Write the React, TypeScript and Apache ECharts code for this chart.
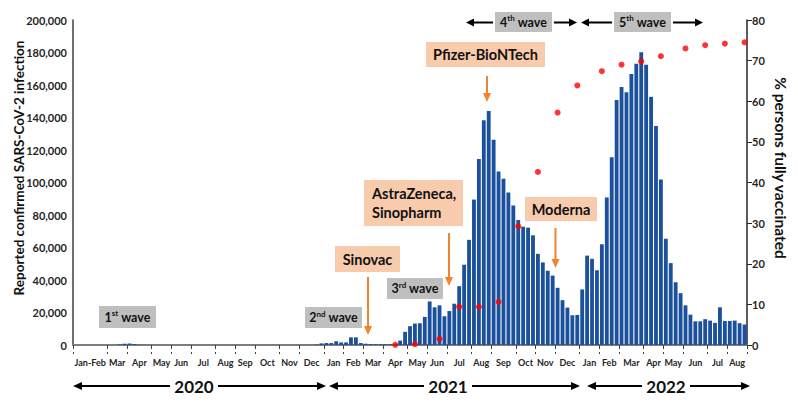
import React, { useEffect, useRef } from "react";
import * as echarts from "echarts";

// ---------- DATA ----------
const START_WEEK = "2020-01-13"; // first weekly bar (Monday)

// Weekly reported confirmed SARS-CoV-2 infections (one value per week)
const weeklyCases: number[] = [
  // Jan-Feb 2020
  5, 5, 5, 10, 15, 10, 10, 30, 80,
  // 1st wave (Mar-Apr 2020)
  400, 800, 900, 600, 250, 100, 60,
  // May-Dec 2020
  60, 40, 30, 25, 20, 30, 50, 60, 40, 30, 20, 30, 40, 30, 30, 40, 50, 40, 30, 40,
  50, 60, 50, 40, 50, 60, 70, 50, 60, 70, 60, 80, 90,
  300, 1000,
  // 2nd wave (Dec 2020 - Mar 2021)
  1200, 1200, 2300, 1600, 1600, 4700, 4700, 1200, 800, 600, 500, 500, 500, 500, 600, 2700,
  // 3rd & 4th wave (Apr 2021 - Dec 2021)
  8100, 11600, 13200, 13400, 17300, 26800, 23200, 24400, 17700, 20900, 25400, 36200,
  49400, 64700, 89500, 114500, 138300, 144000, 126300, 106800, 102300, 93900, 85800,
  76900, 72800, 72200, 67500, 56100, 50800, 45700, 42700, 35200, 27600, 23000, 18300, 18500,
  // 5th wave (2022)
  34200, 55000, 53000, 46000, 62000, 90800, 115500, 150700, 158800, 155600, 166700,
  173100, 180100, 172500, 152700, 134800, 101900, 65400, 50400, 38600, 31900, 24400,
  18700, 14600, 14600, 15900, 15000, 13600, 23200, 14800, 14800, 15000, 13400, 12600,
];

// % persons fully vaccinated (week index of the observation, value)
const vaxWeekIndex: number[] = [65, 69, 74, 78, 82, 86, 90, 94, 98, 102, 107, 111, 115, 119, 124, 128, 132, 136];
const vaxPercent: number[] = [0.05, 0.2, 1.5, 9.4, 9.4, 10.6, 29.2, 42.6, 57.2, 63.9, 67.4, 69.0, 69.8, 71.1, 73.0, 73.8, 74.2, 74.5];

const monthNames = ["Jan", "Feb", "Mar", "Apr", "May", "Jun", "Jul", "Aug", "Sep", "Oct", "Nov", "Dec"];
const firstMonthLabel = "Jan-Feb";
const yearLabels = ["2020", "2021", "2022"];

const leftAxisTitle = "Reported confirmed SARS-CoV-2 infection";
const rightAxisTitle = "% persons fully vaccinated";

const waveNumbers = ["1", "2", "3", "4", "5"];
const waveSuffixes = ["st", "nd", "rd", "th", "th"];
const vaccineNames = ["Sinovac", "AstraZeneca,\nSinopharm", "Pfizer-BioNTech", "Moderna"];

// ---------- derived categories ----------
const DAY = 86400000;
const startMs = Date.parse(START_WEEK + "T00:00:00Z");
const weekLabels = weeklyCases.map((_, k) => new Date(startMs + k * 7 * DAY).toISOString().slice(0, 10));
const weekMonthKey = weeklyCases.map((_, k) => {
  const t = new Date(startMs + (k * 7 + 3) * DAY);
  const y = t.getUTCFullYear();
  const m = t.getUTCMonth();
  if (y === 2020 && m <= 1) return "2020-JF";
  return y + "-" + m;
});
const tickStarts = new Set<number>();
const labelAt = new Map<number, string>(); // index -> rich formatted label
{
  let s = 0;
  for (let k = 1; k <= weekMonthKey.length; k++) {
    if (k === weekMonthKey.length || weekMonthKey[k] !== weekMonthKey[s]) {
      tickStarts.add(s);
      const len = k - s;
      const key = weekMonthKey[s];
      const label = key === "2020-JF" ? firstMonthLabel : monthNames[Number(key.split("-")[1])];
      // even-length months: nudge label half a week to the left so it is centred on the month
      labelAt.set(s + Math.floor(len / 2), (len % 2 === 0 ? "{e|" : "{o|") + label + "}");
      s = k;
    }
  }
}

// ---------- graphic helpers ----------
const FONT = "Lato, 'Open Sans', sans-serif";

function arrow(x1: number, y1: number, x2: number, y2: number, color: string, lw: number, hl: number, hw: number) {
  const dx = x2 - x1, dy = y2 - y1;
  const len = Math.hypot(dx, dy);
  const ux = dx / len, uy = dy / len;
  const bx = x2 - ux * hl, by = y2 - uy * hl;
  const px = -uy, py = ux;
  return [
    { type: "line", silent: true, shape: { x1, y1, x2: bx, y2: by }, style: { stroke: color, lineWidth: lw } },
    {
      type: "polygon", silent: true,
      shape: { points: [[x2, y2], [bx + (px * hw) / 2, by + (py * hw) / 2], [bx - (px * hw) / 2, by - (py * hw) / 2]] },
      style: { fill: color },
    },
  ];
}

function rect(x: number, y: number, w: number, h: number, fill: string) {
  return { type: "rect", silent: true, shape: { x, y, width: w, height: h }, style: { fill } };
}

function waveLabel(i: number, x: number, y: number, w: number, h: number) {
  return [
    rect(x, y, w, h, "#BFBFBF"),
    {
      type: "text", silent: true, x: x + w / 2, y: y + h / 2,
      style: {
        text: "{n|" + waveNumbers[i] + "}{s|" + waveSuffixes[i] + "}{n| wave}",
        align: "center", verticalAlign: "middle",
        rich: {
          n: { fontSize: 12.5, fontWeight: "bold", fontFamily: FONT, fill: "#111", lineHeight: 16 },
          s: { fontSize: 8, fontWeight: "bold", fontFamily: FONT, fill: "#111", lineHeight: 10, verticalAlign: "top" },
        },
      },
    },
  ];
}

function vaccineLabel(i: number, x: number, y: number, w: number, h: number, align: "center" | "left" = "center") {
  return [
    rect(x, y, w, h, "#F8CBAD"),
    {
      type: "text", silent: true,
      x: align === "center" ? x + w / 2 : x + 8, y: y + h / 2,
      style: {
        text: vaccineNames[i], align, verticalAlign: "middle",
        fontSize: 14.5, fontWeight: "bold", fontFamily: FONT, fill: "#111", lineHeight: 19,
      },
    },
  ];
}

function yearLabel(i: number, cx: number) {
  return {
    type: "text", silent: true, x: cx, y: 386,
    style: { text: yearLabels[i], align: "center", verticalAlign: "middle", fontSize: 17, fontWeight: "bold", fontFamily: FONT, fill: "#111" },
  };
}

const ORANGE = "#F0832E";

function buildGraphic() {
  const g: any[] = [];
  // axis titles
  g.push({
    type: "text", silent: true, x: 19, y: 168, rotation: Math.PI / 2,
    style: { text: leftAxisTitle, align: "center", verticalAlign: "middle", fontSize: 13.5, fontWeight: "bold", fontFamily: FONT, fill: "#111" },
  });
  g.push({
    type: "text", silent: true, x: 781, y: 168, rotation: -Math.PI / 2,
    style: { text: rightAxisTitle, align: "center", verticalAlign: "middle", fontSize: 15.5, fontWeight: "bold", fontFamily: FONT, fill: "#111" },
  });
  // wave labels
  g.push(...waveLabel(0, 99, 306, 57, 22));
  g.push(...waveLabel(1, 305, 307, 57, 21));
  g.push(...waveLabel(2, 387, 278, 56, 21));
  g.push(...waveLabel(3, 495, 12, 57, 20));
  g.push(...waveLabel(4, 614, 12, 57, 20));
  g.push(...arrow(493, 22.5, 466, 22.5, "#000", 2, 8, 8));
  g.push(...arrow(554, 22.5, 577, 22.5, "#000", 2, 8, 8));
  g.push(...arrow(612, 22.5, 581, 22.5, "#000", 2, 8, 8));
  g.push(...arrow(673, 22.5, 703, 22.5, "#000", 2, 8, 8));
  // vaccine labels + arrows
  g.push(...vaccineLabel(0, 335, 246, 65, 26));
  g.push(...arrow(368, 277, 368, 335, ORANGE, 2, 9, 8));
  g.push(...vaccineLabel(1, 364, 180, 99, 46, "left"));
  g.push(...arrow(449, 233, 449, 286, ORANGE, 2, 9, 8));
  g.push(...vaccineLabel(2, 426, 42, 119, 25));
  g.push(...arrow(487, 76, 487, 102, ORANGE, 2, 9, 8));
  g.push(...vaccineLabel(3, 525, 197, 72, 24));
  g.push(...arrow(555.5, 228, 555.5, 268, ORANGE, 2, 9, 8));
  // year arrows
  g.push(...arrow(170, 386, 73, 386, "#000", 2, 9, 8));
  g.push(yearLabel(0, 194));
  g.push(...arrow(218, 386, 326, 386, "#000", 2, 9, 8));
  g.push(...arrow(424, 386, 329, 386, "#000", 2, 9, 8));
  g.push(yearLabel(1, 448));
  g.push(...arrow(472, 386, 580, 386, "#000", 2, 9, 8));
  g.push(...arrow(642, 386, 587, 386, "#000", 2, 9, 8));
  g.push(yearLabel(2, 666));
  g.push(...arrow(690, 386, 750, 386, "#000", 2, 9, 8));
  return g;
}

export default function App() {
  const ref = useRef<HTMLDivElement>(null);

  useEffect(() => {
    if (!ref.current) return;
    const chart = echarts.init(ref.current, undefined, { renderer: "svg" });
    const axisLabelStyle = { fontSize: 11, fontWeight: "bold" as const, fontFamily: FONT, color: "#262626" };
    const monthLabelStyle = { fontSize: 9, fontWeight: "bold" as const, fontFamily: FONT, color: "#262626" };
    chart.setOption({
      animation: false,
      backgroundColor: "#ffffff",
      grid: { left: 73, right: 51, top: 20, bottom: 60, containLabel: false },
      xAxis: [
        {
          type: "category", data: weekLabels, position: "bottom", boundaryGap: true,
          axisLine: { show: true, lineStyle: { color: "#7F7F7F", width: 2 } },
          axisTick: { show: false }, axisLabel: { show: false }, splitLine: { show: false },
        },
        {
          type: "category", data: weekLabels, position: "bottom", offset: 9, boundaryGap: true,
          axisLine: { show: true, lineStyle: { color: "#7F7F7F", width: 1 } },
          axisTick: { show: true, interval: (i: number) => tickStarts.has(i), length: 4, lineStyle: { color: "#404040", width: 1 } },
          axisLabel: {
            interval: (i: number) => labelAt.has(i),
            formatter: (_v: string, i: number) => labelAt.get(i) ?? "",
            ...monthLabelStyle, margin: 4,
            rich: {
              e: { ...monthLabelStyle, padding: [0, 5, 0, 0] },
              o: { ...monthLabelStyle },
            },
          },
          splitLine: { show: false },
        },
        {
          type: "category", data: weekLabels, position: "bottom", offset: 9, boundaryGap: true,
          axisLine: { show: false },
          axisTick: { show: true, inside: true, interval: (i: number) => tickStarts.has(i), length: 2, lineStyle: { color: "#404040", width: 1 } },
          axisLabel: { show: false },
          splitLine: { show: false },
        },
      ],
      yAxis: [
        {
          type: "value", min: 0, max: 200000, interval: 20000, position: "left",
          axisLine: { show: true, lineStyle: { color: "#404040", width: 1.5 } },
          axisTick: { show: false }, splitLine: { show: false },
          axisLabel: { ...axisLabelStyle, margin: 6, formatter: (v: number) => v.toLocaleString("en-US") },
        },
        {
          type: "value", min: 0, max: 80, interval: 10, position: "right",
          axisLine: { show: true, lineStyle: { color: "#262626", width: 1.5 } },
          axisTick: { show: true, length: 5, lineStyle: { color: "#262626" } },
          splitLine: { show: false },
          axisLabel: { ...axisLabelStyle, margin: 5 },
        },
      ],
      series: [
        {
          name: "Reported confirmed infections", type: "bar", xAxisIndex: 0, yAxisIndex: 0,
          data: weeklyCases, barCategoryGap: "22%", itemStyle: { color: "#1B519C" }, silent: true,
        },
        {
          name: "% fully vaccinated", type: "scatter", xAxisIndex: 0, yAxisIndex: 1,
          data: vaxWeekIndex.map((k, i) => [k, vaxPercent[i]]),
          symbol: "circle", symbolSize: 6, itemStyle: { color: "#FF0000" }, z: 5, silent: true,
        },
      ],
      graphic: buildGraphic(),
    });
    return () => chart.dispose();
  }, []);

  return (
    <div
      ref={ref}
      style={{ position: "fixed", left: 0, top: 0, width: 798, height: 405, background: "#fff" }}
    />
  );
}
